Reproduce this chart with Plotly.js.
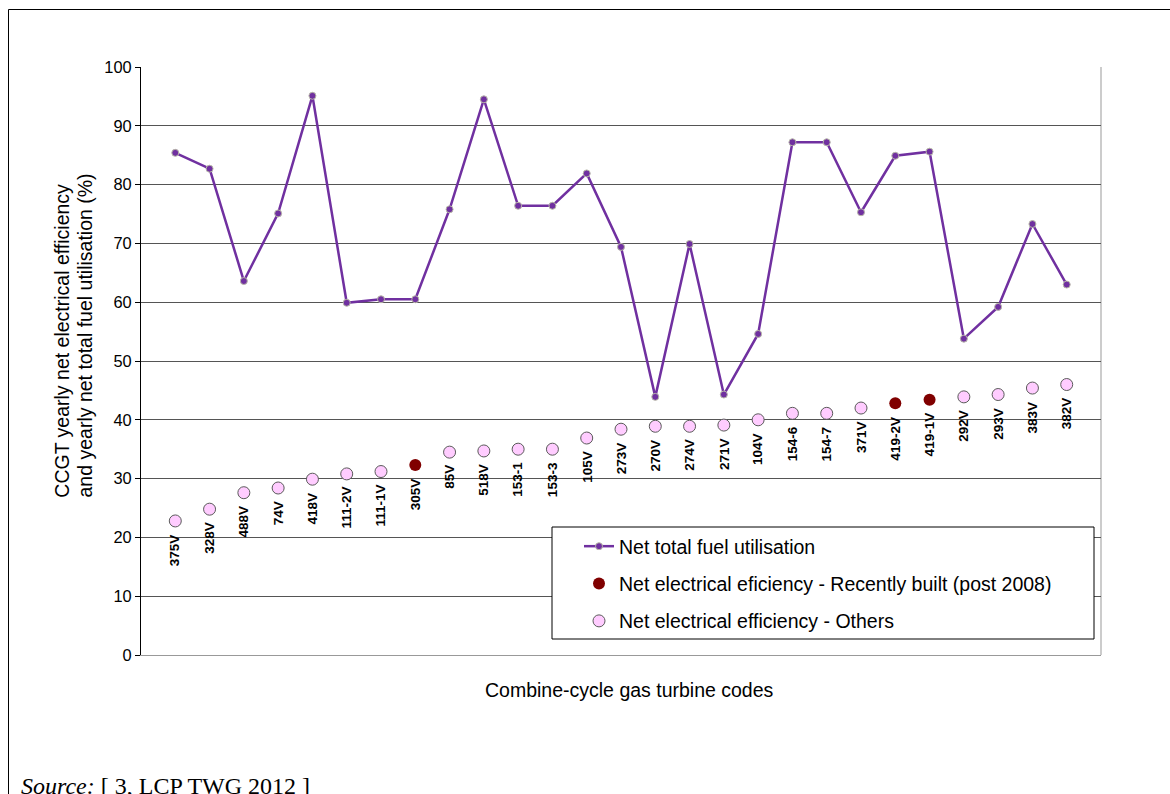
<!DOCTYPE html>
<html>
<head>
<meta charset="utf-8">
<script src="https://cdn.plot.ly/plotly-3.0.1.min.js"></script>
<style>
  html, body { margin: 0; padding: 0; background: #ffffff; }
  #chart { width: 1170px; height: 794px; }
</style>
</head>
<body>
<div id="chart"></div>
<script>
// ---- Data ----
const categories = ['375V','328V','488V','74V','418V','111-2V','111-1V','305V','85V','518V',
  '153-1','153-3','105V','273V','270V','274V','271V','104V','154-6','154-7','371V',
  '419-2V','419-1V','292V','293V','383V','382V'];

// Net total fuel utilisation (%)
const fuelUtilisation = [85.4, 82.7, 63.6, 75.1, 95.1, 59.9, 60.5, 60.5, 75.8, 94.5,
  76.4, 76.4, 81.9, 69.4, 43.9, 69.9, 44.3, 54.6, 87.2, 87.2, 75.3,
  84.9, 85.6, 53.8, 59.2, 73.3, 63.0];

// Net electrical efficiency (%)
const electricalEfficiency = [22.8, 24.8, 27.6, 28.4, 29.9, 30.8, 31.2, 32.3, 34.5, 34.7,
  35.0, 35.0, 36.9, 38.4, 38.9, 38.9, 39.1, 40.0, 41.1, 41.1, 42.0,
  42.8, 43.4, 43.9, 44.3, 45.4, 46.0];

// Units recently built (post 2008)
const recentlyBuilt = ['305V', '419-2V', '419-1V'];

const seriesNames = ['Net total fuel utilisation',
  'Net electrical eficiency - Recently built (post 2008)',
  'Net electrical efficiency - Others'];

const yTicks = [0, 10, 20, 30, 40, 50, 60, 70, 80, 90, 100];

const yTitleLines = ['CCGT yearly net electrical efficiency',
  'and yearly net total fuel utilisation (%)'];
const xTitle = 'Combine-cycle gas turbine codes';

// ---- Build traces ----
const recentY = electricalEfficiency.map((v, i) => recentlyBuilt.includes(categories[i]) ? v : null);
const otherY = electricalEfficiency.map((v, i) => recentlyBuilt.includes(categories[i]) ? null : v);

const SANS = 'Liberation Sans, Arial, sans-serif';

const traces = [
  {
    type: 'scatter', mode: 'lines+markers', name: seriesNames[0],
    x: categories, y: fuelUtilisation, legendgroup: 'a',
    line: { color: '#7030A0', width: 2.5 },
    marker: { color: '#7030A0', size: 7, line: { color: '#b8b8a8', width: 1 } },
    cliponaxis: false
  },
  {
    type: 'scatter', mode: 'markers', name: seriesNames[1],
    x: categories, y: recentY, legendgroup: 'b',
    marker: { color: '#800000', size: 12, line: { color: '#800000', width: 0 } },
    cliponaxis: false
  },
  {
    type: 'scatter', mode: 'markers', name: seriesNames[2],
    x: categories, y: otherY, legendgroup: 'c',
    marker: { color: '#FFCCFF', size: 12, line: { color: '#5a5a5a', width: 1 } },
    cliponaxis: false
  }
];

// ---- Layout geometry (plot area: x 141..1101, y 67..655) ----
const L = 141, R = 1101, T = 67, B = 655;
const W = R - L, H = B - T;
const px = v => (v - L) / W;
const py = v => (B - v) / H;

const annotations = categories.map((c, i) => ({
  x: c, y: electricalEfficiency[i], xref: 'x', yref: 'y',
  text: '<b>' + c + '</b>', showarrow: false, textangle: -90,
  xanchor: 'center', yanchor: 'top', yshift: -11,
  font: { family: SANS, size: 13.5, color: '#000' }
}));

[61.7, 84.5].forEach((cx, k) => annotations.push({
  xref: 'paper', yref: 'paper', x: px(cx), y: py(500),
  xanchor: 'center', yanchor: 'bottom', textangle: -90,
  text: yTitleLines[k],
  showarrow: false, font: { family: SANS, size: 19.5, color: '#000' }
}));
annotations.push({
  xref: 'paper', yref: 'paper', x: px(629), y: py(690),
  xanchor: 'center', yanchor: 'middle',
  text: xTitle,
  showarrow: false, font: { family: SANS, size: 19.5, color: '#000' }
});
annotations.push({
  xref: 'paper', yref: 'paper', x: px(19), y: py(771),
  xanchor: 'left', yanchor: 'top',
  text: '<i>Source:</i> [ 3, LCP TWG 2012 ]',
  showarrow: false, font: { family: 'Liberation Serif, Times New Roman, serif', size: 24, color: '#000' }
});

const shapes = [
  // outer frame
  { type: 'rect', xref: 'paper', yref: 'paper', x0: px(8.5), x1: px(1180), y0: py(830), y1: py(9.5),
    line: { color: '#000', width: 1 }, fillcolor: 'rgba(0,0,0,0)', layer: 'below' },
  // right border of plot area
  { type: 'line', xref: 'paper', yref: 'paper', x0: 1, x1: 1, y0: 0, y1: 1,
    line: { color: '#999', width: 1 }, layer: 'below' },
  // legend box
  { type: 'rect', xref: 'paper', yref: 'paper', x0: px(552), x1: px(1094), y0: py(639), y1: py(527),
    line: { color: '#000', width: 1 }, fillcolor: '#ffffff', layer: 'above' }
];

const layout = {
  width: 1170, height: 794,
  margin: { l: L, r: 1170 - R, t: T, b: 794 - B, pad: 0 },
  paper_bgcolor: '#ffffff', plot_bgcolor: '#ffffff',
  showlegend: true,
  legend: {
    x: px(579), y: py(527), xanchor: 'left', yanchor: 'top',
    bgcolor: 'rgba(0,0,0,0)', borderwidth: 0,
    traceorder: 'grouped', tracegroupgap: 9,
    font: { family: SANS, size: 19.5, color: '#000' }
  },
  xaxis: {
    type: 'category', range: [-1, 27], showticklabels: false, ticks: '',
    showgrid: false, zeroline: false, showline: true, linecolor: '#999', linewidth: 1,
    fixedrange: true
  },
  yaxis: {
    range: [0, 100], tickvals: yTicks, ticktext: yTicks.map(String),
    showgrid: true, gridcolor: '#555', gridwidth: 1, zeroline: false,
    showline: true, linecolor: '#000', linewidth: 1,
    ticks: 'outside', ticklen: 5, tickcolor: '#000', tickwidth: 1,
    tickfont: { family: SANS, size: 16.4, color: '#000' },
    fixedrange: true
  },
  annotations: annotations,
  shapes: shapes
};

Plotly.newPlot('chart', traces, layout, { displayModeBar: false, staticPlot: true });
</script>
</body>
</html>
